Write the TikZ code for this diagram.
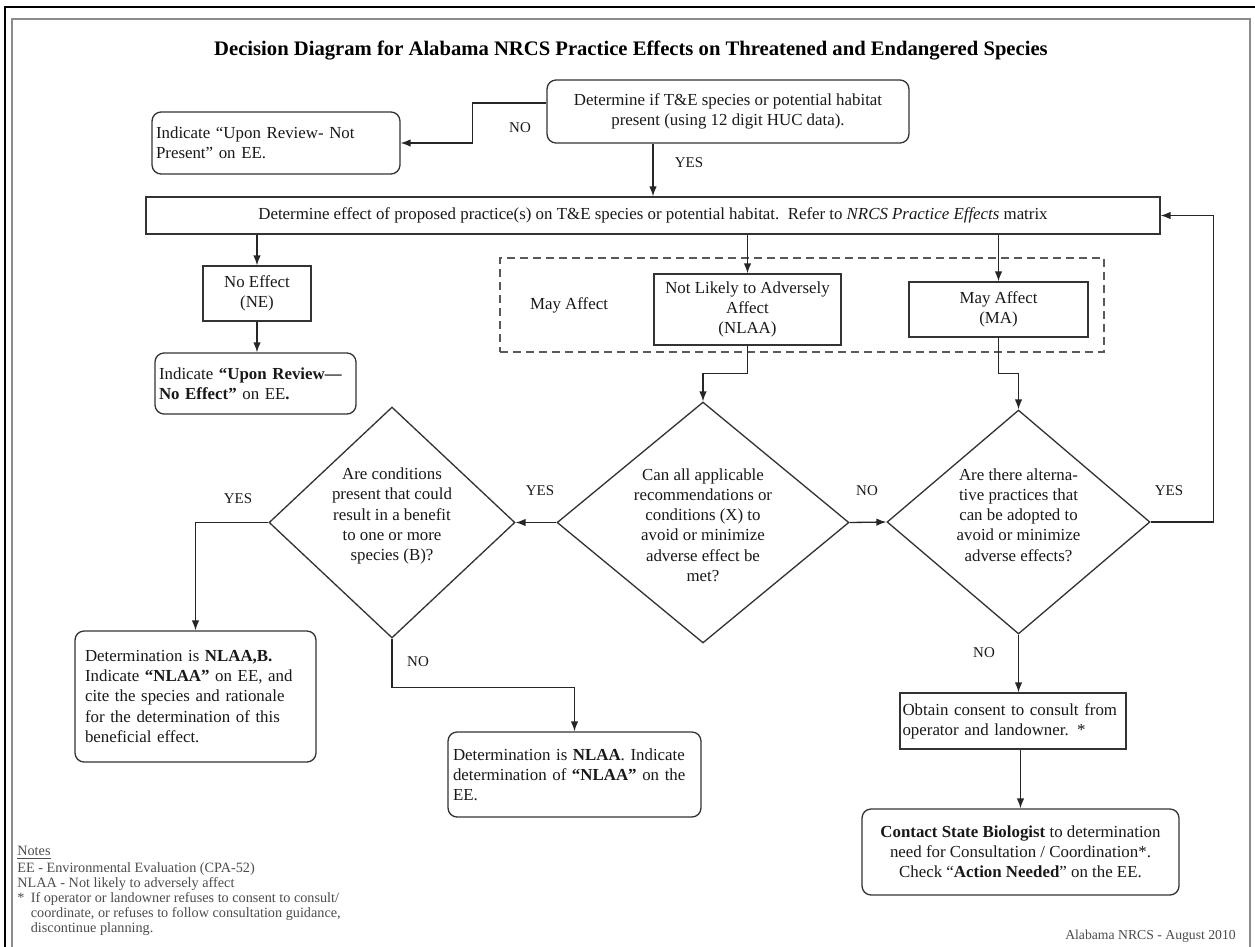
\documentclass[tikz,border=0pt]{standalone}
\usepackage{fontspec}
\setmainfont{Liberation Serif}
\usepackage{tikz}
\usetikzlibrary{shapes.geometric,arrows.meta}

\tikzset{
  box/.style={draw=black!80, line width=0.75pt, text=black!90, font=\fontsize{9.6}{11.5}\selectfont, inner sep=0.08cm},
  rbox/.style={box, rounded corners=0.18cm},
  dia/.style={draw=black!80, line width=0.75pt, diamond, inner sep=0pt},
  dtext/.style={align=center, text=black!90, font=\fontsize{9.6}{11.5}\selectfont},
  arr/.style={draw=black!85, line width=0.75pt, -{Latex[length=2mm,width=1.5mm]}},
  yn/.style={font=\fontsize{8.5}{10}\selectfont, text=black!90}
}

\begin{document}
\begin{tikzpicture}[x=0.02cm, y=-0.02cm]
\useasboundingbox (0,0) rectangle (1255,947);
\fill[white] (0,0) rectangle (1255,947);
\draw[black, line width=1.2pt] (5,947) -- (5,7) -- (1255,7);
\draw[black!45, line width=1.2pt] (12,947) -- (12,19) -- (1250,19) -- (1250,947);

\node[anchor=base, font=\bfseries\fontsize{11.75}{14}\selectfont] (title) at (631,55) {Decision Diagram for Alabama NRCS Practice Effects on Threatened and Endangered Species};

\node[rbox, minimum width=7.24cm, minimum height=1.26cm, align=center] (present) at (728,111.5) {Determine if T\&E species or potential habitat\\present (using 12 digit HUC data).};
\node[rbox, minimum width=4.96cm, minimum height=1.24cm, text width=4.8cm, align=left] (notpres) at (276,143) {Indicate “Upon Review- Not\\Present” on EE.};
\node[box, minimum width=20.28cm, minimum height=0.74cm] (effect) at (653,215.5) {Determine effect of proposed practice(s) on T\&E species or potential habitat.\ \ Refer to \textit{NRCS Practice Effects} matrix};

\node[box, minimum width=2.16cm, minimum height=1.1cm, align=center] (ne) at (257,293.5) {No Effect\\(NE)};
\node[rbox, minimum width=4.02cm, minimum height=1.22cm, text width=3.86cm, align=left] (noeff) at (255.5,383.5) {Indicate \textbf{“Upon Review—}\\\textbf{No Effect”} on EE\textbf{.}};

\node[draw=black!65, dash pattern=on 0.16cm off 0.1cm, line width=0.75pt, minimum width=12.08cm, minimum height=1.88cm] (mayzone) at (802,305) {};
\node[font=\fontsize{9.6}{11.5}\selectfont, text=black!90] (maylab) at (569,305) {May Affect};
\node[box, minimum width=3.74cm, minimum height=1.42cm, align=center] (nlaa) at (747.5,309.5) {Not Likely to Adversely\\Affect\\(NLAA)};
\node[box, minimum width=3.58cm, minimum height=1.1cm, align=center] (ma) at (998.5,309.5) {May Affect\\(MA)};

\node[dia, minimum width=4.92cm, minimum height=4.62cm, label={[dtext, yshift=0.13cm]center:{Are conditions\\present that could\\result in a benefit\\to one or more\\species (B)?}}] (dben) at (392,522.5) {};
\node[dia, minimum width=5.84cm, minimum height=4.82cm, label={[dtext, yshift=-0.05cm]center:{Can all applicable\\recommendations or\\conditions (X) to\\avoid or minimize\\adverse effect be\\met?}}] (dcond) at (703,522.5) {};
\node[dia, minimum width=5.26cm, minimum height=4.48cm, label={[dtext, yshift=0.14cm]center:{Are there alterna-\\tive practices that\\can be adopted to\\avoid or minimize\\adverse effects?}}] (dalt) at (1018.5,522) {};

\node[rbox, minimum width=4.82cm, minimum height=2.62cm, text width=4.42cm, inner xsep=0.2cm, align=left] (nlaab) at (195.5,696.5) {Determination is \textbf{NLAA,B.}\\Indicate \textbf{“NLAA”} on\ EE, and\\cite the species and rationale\\for the determination of this\\beneficial effect.};
\node[rbox, minimum width=5.06cm, minimum height=1.7cm, text width=4.86cm, inner xsep=0.1cm, align=left] (nlaa2) at (574.5,774.5) {Determination is \textbf{NLAA}. Indicate\\determination of \textbf{“NLAA”} on the\\EE.};
\node[box, minimum width=4.52cm, minimum height=1.12cm, text width=4.42cm, inner xsep=0.05cm, align=left] (consent) at (1013,721) {Obtain consent to consult from\\operator and landowner. *};
\node[rbox, minimum width=6.34cm, minimum height=1.72cm, align=center] (bio) at (1020.5,852) {\textbf{Contact State Biologist} to determination\\need for Consultation / Coordination*.\\Check “\textbf{Action Needed}” on the EE.};

% connectors and their YES / NO tags
\draw[arr] ([yshift=0.17cm]present.west) -- ++(-74,0) |- (notpres.east);
\node[yn] (no1) at (520,128) {NO};
\draw[arr] (present.south -| effect.north) -- (effect.north);
\node[yn] (yes1) at (689,163) {YES};
\draw[arr] (effect.south -| ne.north) -- (ne.north);
\draw[arr] (ne.south) -- (ne.south |- noeff.north);
\draw[arr] (effect.south -| nlaa.north) -- (nlaa.north);
\draw[arr] (effect.south -| ma.north) -- (ma.north);
\draw[arr] (nlaa.south) -- ++(0,28) -| (dcond.north);
\draw[arr] (ma.south) -- ++(0,36) -| (dalt.north);
\draw[arr] (dcond.west) -- (dben.east);
\node[yn] (yes2) at (540,491) {YES};
\draw[arr] (dben.west) -| (nlaab.north);
\node[yn] (yes3) at (238,499) {YES};
\draw[arr] (dben.south) -- ++(0,49) -| (nlaa2.north);
\node[yn] (no2) at (418,662) {NO};
\draw[arr] (dcond.east) -- (dalt.west);
\node[yn] (no3) at (867,491) {NO};
\draw[arr] (dalt.east) -- ++(63,0) |- (effect.east);
\node[yn] (yes4) at (1169,491) {YES};
\draw[arr] (dalt.south) -- (dalt.south |- consent.north);
\node[yn] (no4) at (984,653) {NO};
\draw[arr] (consent.south -| bio.north) -- (bio.north);

\node[anchor=north west, inner sep=0pt, align=left, text=black!70, font=\fontsize{8.1}{8.5}\selectfont] (notes) at (17,846) {\underline{Notes}\\[1.2pt]EE - Environmental Evaluation (CPA-52)\\NLAA - Not likely to adversely affect\\\makebox[0.27cm][l]{*}If operator or landowner refuses to consent to consult/\\\hspace{0.27cm}coordinate, or refuses to follow consultation guidance,\\\hspace{0.27cm}discontinue planning.};
\node[anchor=base east, text=black!70, font=\fontsize{7.8}{9}\selectfont] (stamp) at (1242,939) {Alabama NRCS - August 2010};
\end{tikzpicture}
\end{document}
